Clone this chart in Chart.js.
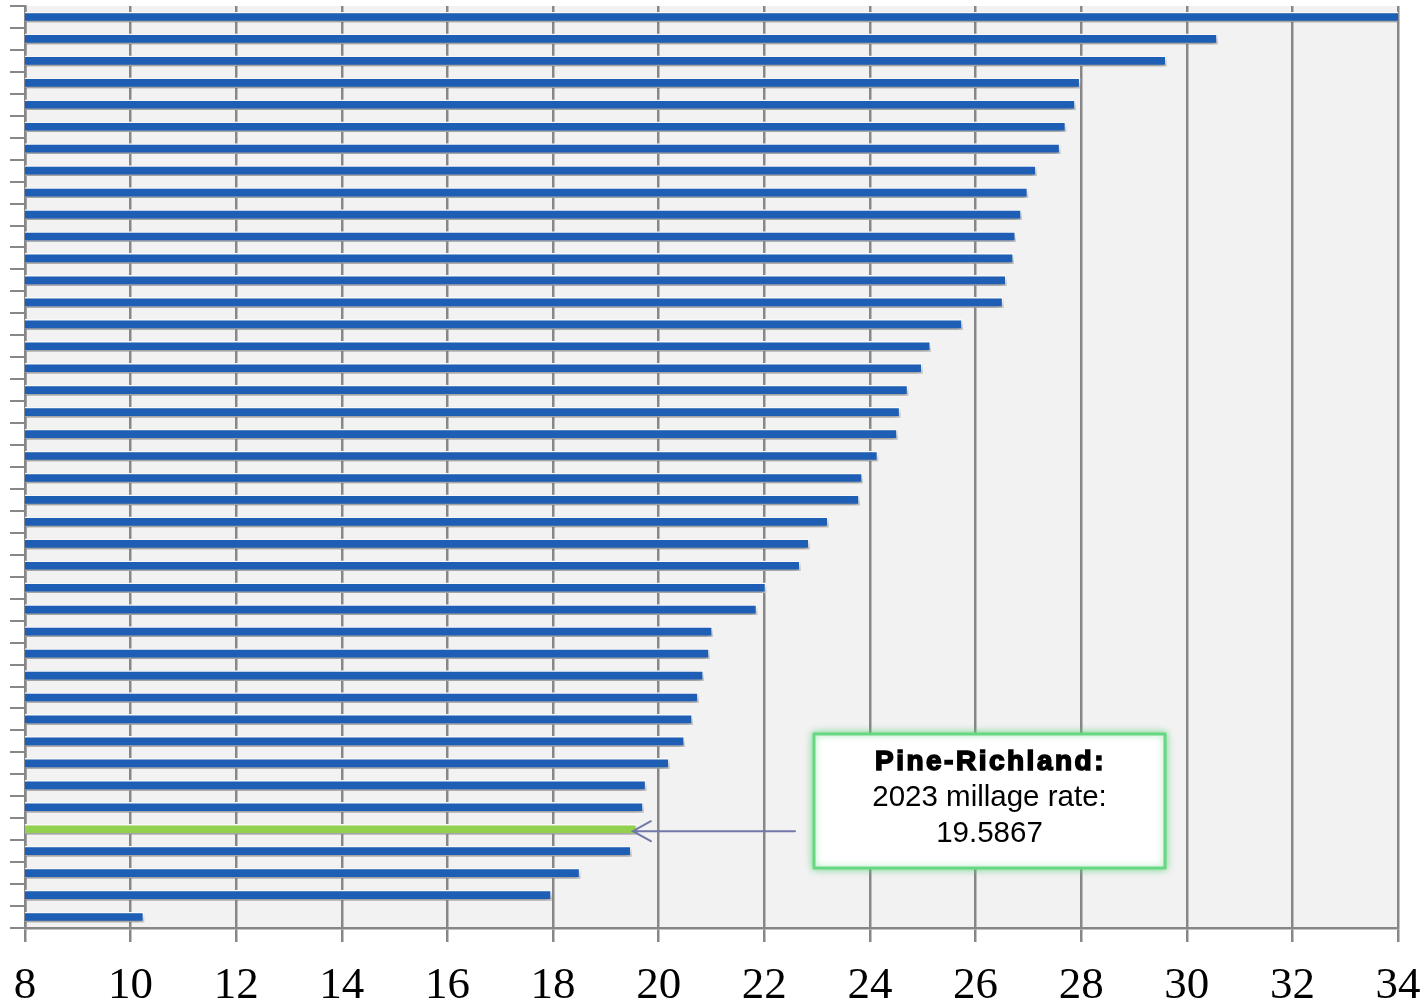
<!DOCTYPE html>
<html>
<head>
<meta charset="utf-8">
<title>2023 Millage Rates</title>
<script src="https://cdn.jsdelivr.net/npm/chart.js@4.4.1/dist/chart.umd.min.js"></script>
<style>
  html, body { margin: 0; padding: 0; background: #ffffff; }
  #wrap { width: 1428px; height: 1007px; position: relative; }
</style>
</head>
<body>
<div id="wrap"><canvas id="chart" width="1428" height="1007"></canvas></div>
<script>
// School districts ranked by 2023 millage rate (highest first)
const districts = [
  "1", "2", "3", "4", "5", "6", "7", "8", "9", "10",
  "11", "12", "13", "14", "15", "16", "17", "18", "19", "20",
  "21", "22", "23", "24", "25", "26", "27", "28", "29", "30",
  "31", "32", "33", "34", "35", "36", "37", "Pine-Richland", "39", "40",
  "41", "42"
];

// 2023 millage rates
const millage = [
  34.30, 30.58, 29.61, 27.98, 27.89, 27.71, 27.60, 27.15, 26.99, 26.87,
  26.76, 26.72, 26.58, 26.52, 25.75, 25.15, 24.99, 24.72, 24.57, 24.52,
  24.15, 23.86, 23.80, 23.21, 22.85, 22.68, 22.03, 21.86, 21.02, 20.96,
  20.85, 20.75, 20.64, 20.49, 20.20, 19.76, 19.71, 19.5867, 19.48, 18.51,
  17.97, 10.25
];

// x-axis tick values
const xTicks = [8, 10, 12, 14, 16, 18, 20, 22, 24, 26, 28, 30, 32, 34];

const highlightName = "Pine-Richland";
const calloutLines = ["Pine-Richland:", "2023 millage rate:", "19.5867"];

const BLUE = "#1f5eb5";
const GREEN = "#92d050";
const GRID = "#878787";

const barColors = districts.map(d => d === highlightName ? GREEN : BLUE);

// light grey plot background
const plotBackground = {
  id: "plotBackground",
  beforeDraw(chart) {
    const { ctx, chartArea: a } = chart;
    ctx.save();
    ctx.fillStyle = "#f2f2f2";
    ctx.fillRect(a.left, a.top, a.right - a.left, a.bottom - a.top);
    ctx.restore();
  }
};

// soft drop shadow under each bar
const barShadow = {
  id: "barShadow",
  beforeDatasetsDraw(chart) {
    const ctx = chart.ctx;
    ctx.save();
    ctx.shadowColor = "rgba(0,0,0,0.5)";
    ctx.shadowBlur = 7;
    ctx.shadowOffsetX = 2;
    ctx.shadowOffsetY = 5;
  },
  afterDatasetsDraw(chart) {
    chart.ctx.restore();
  }
};

// arrow and callout box for the highlighted district
const callout = {
  id: "callout",
  afterDraw(chart) {
    const { ctx } = chart;
    const idx = districts.indexOf(highlightName);
    const bar = chart.getDatasetMeta(0).data[idx];
    const tipX = bar.x - 4;
    const y = bar.y + 2;
    const tailX = 795;

    ctx.save();
    ctx.strokeStyle = "#7178a8";
    ctx.lineWidth = 2;
    ctx.lineCap = "round";
    ctx.beginPath();
    ctx.moveTo(tailX, y);
    ctx.lineTo(tipX, y);
    ctx.moveTo(tipX + 18, y - 10);
    ctx.lineTo(tipX, y);
    ctx.lineTo(tipX + 18, y + 10);
    ctx.stroke();
    ctx.restore();

    const bx = 814, by = 734, bw = 351, bh = 134;
    ctx.save();
    ctx.shadowColor = "rgba(90,210,120,0.75)";
    ctx.shadowBlur = 9;
    ctx.fillStyle = "#ffffff";
    ctx.fillRect(bx, by, bw, bh);
    ctx.shadowColor = "rgba(90,210,120,0.6)";
    ctx.shadowBlur = 6;
    ctx.strokeStyle = "#66d882";
    ctx.lineWidth = 3;
    ctx.strokeRect(bx, by, bw, bh);
    ctx.restore();

    const cx = bx + bw / 2;
    ctx.save();
    ctx.fillStyle = "#000000";
    ctx.textAlign = "center";
    ctx.textBaseline = "middle";
    ctx.font = "bold 28px 'Liberation Sans', Arial, sans-serif";
    ctx.letterSpacing = "2.5px";
    ctx.strokeStyle = "#000000";
    ctx.lineWidth = 1.6;
    ctx.fillText(calloutLines[0], cx + 1, by + 28);
    ctx.strokeText(calloutLines[0], cx + 1, by + 28);
    ctx.letterSpacing = "0px";
    ctx.font = "29.5px 'Liberation Sans', Arial, sans-serif";
    ctx.fillText(calloutLines[1], cx, by + 64);
    ctx.fillText(calloutLines[2], cx, by + 100);
    ctx.restore();
  }
};

new Chart(document.getElementById("chart"), {
  type: "bar",
  data: {
    labels: districts,
    datasets: [{
      data: millage,
      backgroundColor: barColors,
      borderColor: "#ffffff",
      borderWidth: 1.5,
      barThickness: 10
    }]
  },
  options: {
    indexAxis: "y",
    responsive: false,
    animation: false,
    devicePixelRatio: 1,
    layout: { padding: { left: 10, top: 6, right: 30, bottom: 1 } },
    plugins: {
      legend: { display: false },
      tooltip: { enabled: false }
    },
    scales: {
      x: {
        type: "linear",
        min: xTicks[0],
        max: xTicks[xTicks.length - 1],
        afterBuildTicks(scale) {
          scale.ticks = xTicks.map(v => ({ value: v }));
        },
        afterFit(scale) {
          scale.height = 78;
          scale.paddingLeft = 0;
          scale.paddingRight = 0;
        },
        grid: {
          color: GRID,
          lineWidth: 2.5,
          tickLength: 14,
          drawTicks: true
        },
        border: { color: GRID, width: 2.5 },
        ticks: {
          color: "#000000",
          padding: 22,
          font: { family: "'Liberation Serif', 'Times New Roman', serif", size: 45, lineHeight: 1 },
          maxRotation: 0,
          autoSkip: false
        }
      },
      y: {
        afterFit(scale) {
          scale.width = 15;
        },
        grid: {
          offset: true,
          drawOnChartArea: false,
          color: GRID,
          lineWidth: 2,
          tickLength: 15
        },
        border: { color: GRID, width: 2.5 },
        ticks: { display: false }
      }
    }
  },
  plugins: [plotBackground, barShadow, callout]
});
</script>
</body>
</html>
